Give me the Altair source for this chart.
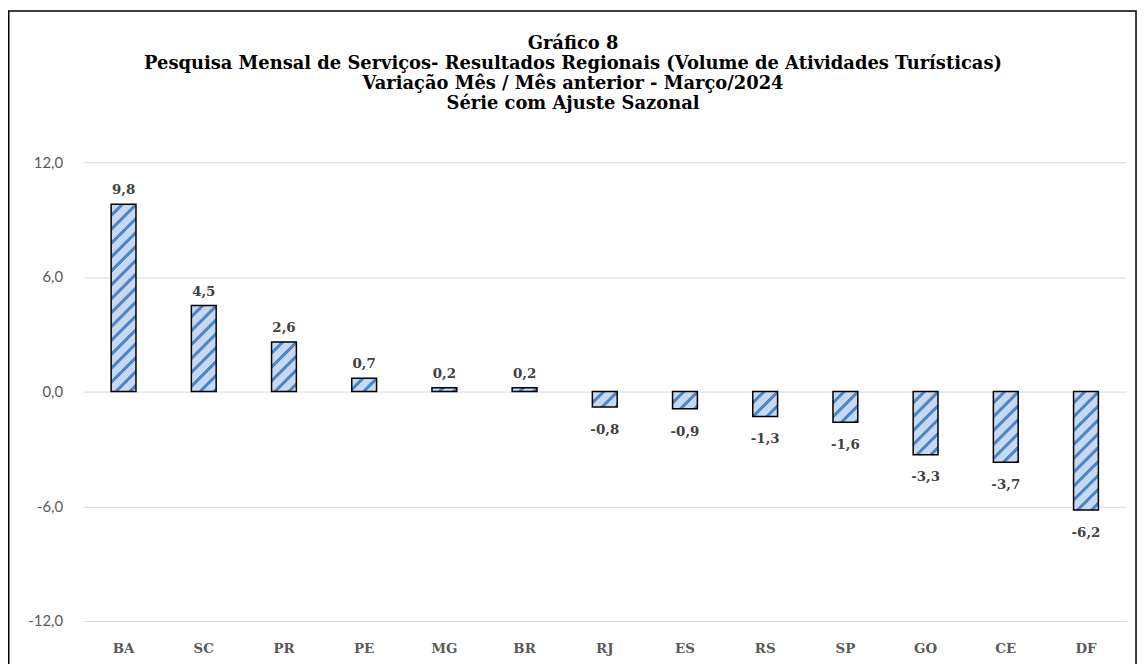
import altair as alt
import pandas as pd

categories = ["BA", "SC", "PR", "PE", "MG", "BR", "RJ", "ES", "RS", "SP", "GO", "CE", "DF"]
values = [9.8, 4.5, 2.6, 0.7, 0.2, 0.2, -0.8, -0.9, -1.3, -1.6, -3.3, -3.7, -6.2]
y_ticks = [-12, -6, 0, 6, 12]
title_lines = [
    "Gráfico 8",
    "Pesquisa Mensal de Serviços- Resultados Regionais (Volume de Atividades Turísticas)",
    "Variação Mês / Mês anterior - Março/2024",
    "Série com Ajuste Sazonal",
]

W, H = 1050, 462
BAR_W = 25
Y_MIN, Y_MAX = -12, 12
STRIPE_P = 14.0
DARK_FRAC = 0.38
LIGHT = "#c6d9f1"
DARK = "#4a86c8"
SERIF = "DejaVu Serif"

df = pd.DataFrame({"uf": categories, "v": values})
df["label"] = [f"{v:.1f}".replace(".", ",") for v in values]


def stripe_gradient(v):
    h = max(abs(v) * H / (Y_MAX - Y_MIN), 0.5)
    w = float(BAR_W)
    r = h / w
    s = (1 + r) / (1 + r * r)
    dt = STRIPE_P / (w + h)
    e = 1.0 / (w + h)
    stops = [alt.GradientStop(offset=0, color=LIGHT)]
    k = 0
    while True:
        a = k * dt + (1 - DARK_FRAC) * dt
        b = (k + 1) * dt
        if a >= 1:
            break
        pts = [(a, LIGHT), (a + e, DARK), (b - e, DARK), (b, LIGHT)]
        for off, col in pts:
            stops.append(alt.GradientStop(offset=min(off, 1.0), color=col))
        k += 1
    return alt.LinearGradient(gradient="linear", x1=0, y1=0, x2=s, y2=s * r, stops=stops)


x_enc = alt.X(
    "uf:N",
    sort=categories,
    scale=alt.Scale(domain=categories, paddingInner=0.69, paddingOuter=0.345),
    axis=alt.Axis(
        title=None, labelAngle=0, domain=False, ticks=False, grid=False,
        labelFont=SERIF, labelFontWeight="bold", labelFontSize=13.5,
        labelColor="#595959", labelPadding=21,
    ),
)
y_enc = alt.Y(
    "v:Q",
    scale=alt.Scale(domain=[Y_MIN, Y_MAX], nice=False),
    axis=alt.Axis(
        title=None, values=y_ticks, domain=False, ticks=False,
        gridColor="#d9d9d9", gridWidth=1,
        labelExpr="replace(replace(format(datum.value, '.1f'), '.', ','), '\u2212', '-')",
        labelFont="Lato", labelFontSize=15, labelColor="#595959", labelPadding=21,
    ),
)

layers = []
for c, v in zip(categories, values):
    layers.append(
        alt.Chart(df)
        .transform_filter(alt.datum.uf == c)
        .mark_bar(fill=stripe_gradient(v), stroke="black", strokeWidth=1.5, size=BAR_W)
        .encode(x=x_enc, y=y_enc)
    )

pos_labels = (
    alt.Chart(df)
    .transform_filter(alt.datum.v >= 0)
    .mark_text(font=SERIF, fontWeight="bold", fontSize=13.5, color="#404040", baseline="middle", dy=-14)
    .encode(x=x_enc, y=y_enc, text="label:N")
)
neg_labels = (
    alt.Chart(df)
    .transform_filter(alt.datum.v < 0)
    .mark_text(font=SERIF, fontWeight="bold", fontSize=13.5, color="#404040", baseline="middle", dy=23)
    .encode(x=x_enc, y=y_enc, text="label:N")
)

title_layers = []
title_y = [-119, -99, -79, -59]
for line, ty in zip(title_lines, title_y):
    title_layers.append(
        alt.Chart(alt.Data(values=[{"t": line}]))
        .mark_text(font=SERIF, fontWeight="bold", fontSize=18, color="black", baseline="middle", align="center")
        .encode(x=alt.value(493), y=alt.value(ty), text="t:N")
    )

border = alt.Chart(alt.Data(values=[{"a": 1}])).mark_rect(
    fill="white", fillOpacity=0, stroke="black", strokeWidth=1.5
).encode(
    x=alt.value(-75.25), x2=alt.value(1060), y=alt.value(-152.25), y2=alt.value(530)
)

chart = alt.layer(*layers, pos_labels, neg_labels, *title_layers, border).properties(
    width=W,
    height=H,
    padding={"left": 76, "top": 153, "right": 12, "bottom": 41},
    autosize="none",
).configure_view(stroke=None)

chart.save("out.html", embed_options={"renderer": "svg", "actions": False})
